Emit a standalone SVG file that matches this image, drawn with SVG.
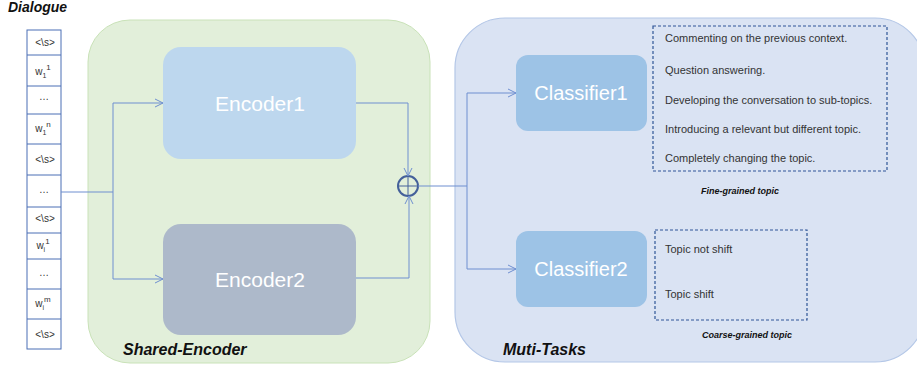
<svg xmlns="http://www.w3.org/2000/svg" width="917" height="369" viewBox="0 0 917 369">
<defs>
<marker id="arr" markerWidth="10" markerHeight="10" refX="9" refY="5" orient="auto" markerUnits="userSpaceOnUse">
<path d="M1,1 L9,5 L1,9" fill="none" stroke="#6f8fd0" stroke-width="1"/>
</marker>
</defs>
<style>
.tok{font-family:"Liberation Sans",Arial,sans-serif;font-size:10px;fill:#333;text-anchor:middle}
.cell{fill:#fff;stroke:#4a6fb5;stroke-width:1}
.big{font-family:"Liberation Sans",Arial,sans-serif;fill:#fff;text-anchor:middle}
.item{font-family:"Liberation Sans",Arial,sans-serif;font-size:11px;fill:#333}
.cap{font-family:"Liberation Sans",Arial,sans-serif;font-style:italic;font-weight:bold;fill:#111}
.conn{fill:none;stroke:#6f8fd0;stroke-width:1}
.dash{fill:none;stroke:#2f5597;stroke-width:1.2;stroke-dasharray:3,2}
</style>
<text x="8" y="12" class="cap" font-size="14">Dialogue</text>

<g id="shared-encoder">
<rect x="88" y="20" width="342" height="343" rx="42" fill="#e2efda" stroke="#c9e2b8" stroke-width="1"/>
<text x="123" y="355" class="cap" font-size="16">Shared-Encoder</text>
</g>
<g id="muti-tasks">
<rect x="455" y="18" width="470" height="344" rx="50" fill="#dae3f3" stroke="#b4c7e7" stroke-width="1.2"/>
<text x="503" y="355" class="cap" font-size="16">Muti-Tasks</text>
</g>

<g id="dialogue">
<rect x="27" y="30" width="34" height="319" class="cell"/>
<line x1="27" y1="55" x2="61" y2="55" class="cell"/>
<line x1="27" y1="86" x2="61" y2="86" class="cell"/>
<line x1="27" y1="114" x2="61" y2="114" class="cell"/>
<line x1="27" y1="144" x2="61" y2="144" class="cell"/>
<line x1="27" y1="175" x2="61" y2="175" class="cell"/>
<line x1="27" y1="207" x2="61" y2="207" class="cell"/>
<line x1="27" y1="233" x2="61" y2="233" class="cell"/>
<line x1="27" y1="259" x2="61" y2="259" class="cell"/>
<line x1="27" y1="289" x2="61" y2="289" class="cell"/>
<line x1="27" y1="319" x2="61" y2="319" class="cell"/>
<text x="45" y="46" class="tok">&lt;\s&gt;</text>
<text x="43" y="75" class="tok">w<tspan font-size="7" dy="3">1</tspan><tspan font-size="8" dy="-8">1</tspan></text>
<text x="44" y="100" class="tok">…</text>
<text x="43" y="132" class="tok">w<tspan font-size="7" dy="3">1</tspan><tspan font-size="8" dy="-8">n</tspan></text>
<text x="45" y="163" class="tok">&lt;\s&gt;</text>
<text x="44" y="193" class="tok">…</text>
<text x="45" y="222" class="tok">&lt;\s&gt;</text>
<text x="43" y="249" class="tok">w<tspan font-size="7" dy="3">i</tspan><tspan font-size="8" dy="-8">1</tspan></text>
<text x="44" y="276" class="tok">…</text>
<text x="43" y="307" class="tok">w<tspan font-size="7" dy="3">i</tspan><tspan font-size="8" dy="-8">m</tspan></text>
<text x="45" y="338" class="tok">&lt;\s&gt;</text>
</g>

<g id="encoder1">
<rect x="163" y="47" width="193" height="112" rx="18" fill="#bdd7ee"/>
<text x="260" y="111" class="big" font-size="21">Encoder1</text>
</g>
<g id="encoder2">
<rect x="163" y="224" width="193" height="111" rx="18" fill="#adb9ca"/>
<text x="260" y="287" class="big" font-size="21">Encoder2</text>
</g>
<g id="combine">
<circle cx="408" cy="186" r="10" fill="none" stroke="#44609a" stroke-width="2"/>
<line x1="398" y1="186" x2="418" y2="186" stroke="#44609a" stroke-width="1"/>
<line x1="408" y1="176" x2="408" y2="196" stroke="#44609a" stroke-width="1"/>
</g>
<g id="classifier1">
<rect x="516" y="55" width="131" height="76" rx="12" fill="#9dc3e6"/>
<text x="581" y="100" class="big" font-size="20">Classifier1</text>
</g>
<g id="classifier2">
<rect x="516" y="231" width="131" height="76" rx="12" fill="#9dc3e6"/>
<text x="581" y="276" class="big" font-size="20">Classifier2</text>
</g>

<g id="fine-grained">
<rect x="653" y="26" width="234" height="145" class="dash"/>
<text x="665" y="42" class="item">Commenting on the previous context.</text>
<text x="665" y="74" class="item">Question answering.</text>
<text x="665" y="104" class="item">Developing the conversation to sub-topics.</text>
<text x="665" y="133" class="item">Introducing a relevant but different topic.</text>
<text x="665" y="162" class="item">Completely changing the topic.</text>
<text x="740" y="194" class="cap" font-size="9" text-anchor="middle">Fine-grained topic</text>
</g>
<g id="coarse-grained">
<rect x="655" y="230" width="152" height="90" class="dash"/>
<text x="665" y="253" class="item">Topic not shift</text>
<text x="665" y="298" class="item">Topic shift</text>
<text x="747" y="338" class="cap" font-size="9" text-anchor="middle">Coarse-grained topic</text>
</g>

<g id="connectors">
<polyline points="61,192 113,192" class="conn"/>
<polyline points="113,192 113,103 163,103" class="conn" marker-end="url(#arr)"/>
<polyline points="113,192 113,279 163,279" class="conn" marker-end="url(#arr)"/>
<polyline points="356,103 408,103 408,176" class="conn" marker-end="url(#arr)"/>
<polyline points="356,278 409,278 409,196" class="conn" marker-end="url(#arr)"/>
<polyline points="418,186 467,186" class="conn"/>
<polyline points="467,186 467,93 516,93" class="conn" marker-end="url(#arr)"/>
<polyline points="467,186 467,269 516,269" class="conn" marker-end="url(#arr)"/>
</g>
</svg>
